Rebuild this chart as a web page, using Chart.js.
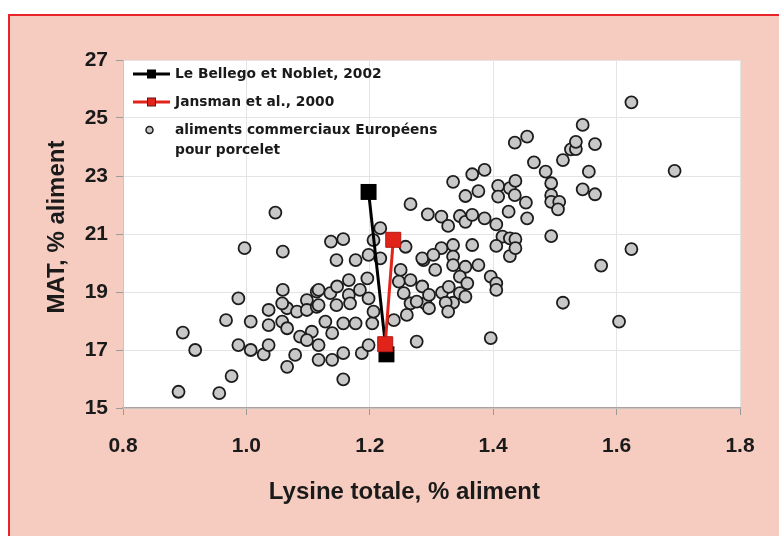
<!DOCTYPE html>
<html>
<head>
<meta charset="utf-8">
<script src="https://cdn.jsdelivr.net/npm/chart.js@4.4.0/dist/chart.umd.min.js"></script>
<style>
  html, body { margin: 0; padding: 0; background: #ffffff; overflow: hidden; width: 779px; height: 536px; }
  #frame { position: absolute; left: 8px; top: 14px; width: 820px; height: 600px;
           background: #f7ccc0; border-left: 2px solid #e8232a; border-top: 2px solid #e8232a; }
  #c { position: absolute; left: 0; top: 0; }
</style>
</head>
<body>
<div id="frame"></div>
<canvas id="c" width="779" height="536"></canvas>
<script>
// Series names (legend order)
const seriesNames = [
  'Le Bellego et Noblet, 2002',
  'Jansman et al., 2000',
  'aliments commerciaux Européens\npour porcelet'
];
const xTitle = 'Lysine totale, % aliment';
const yTitle = 'MAT, % aliment';

// Axis ranges
const xTicks = [0.8, 1.0, 1.2, 1.4, 1.6, 1.8];
const yTicks = [15, 17, 19, 21, 23, 25, 27];

// Recommendation lines
const bellegoLys = [1.198, 1.227];
const bellegoMat = [22.45, 16.85];
const jansmanLys = [1.238, 1.225];
const jansmanMat = [20.80, 17.20];

// Commercial European piglet feeds: total lysine (%) and crude protein (%)
const feedLys = [
  0.890, 0.956, 0.976, 0.897, 0.917, 0.967, 0.987, 0.987, 1.007, 1.007,
  0.997, 1.047, 1.059, 1.028, 1.036, 1.036, 1.036, 1.058, 1.066, 1.066,
  1.059, 1.058, 1.079, 1.066, 1.087, 1.082, 1.098, 1.098, 1.114, 1.114,
  1.106, 1.117, 1.098, 1.117, 1.139, 1.157, 1.157, 1.128, 1.139, 1.157,
  1.177, 1.204, 1.187, 1.198, 1.117, 1.136, 1.147, 1.166, 1.166, 1.184,
  1.196, 1.117, 1.146, 1.168, 1.198, 1.206, 1.137, 1.157, 1.146, 1.177,
  1.198, 1.206, 1.217, 1.217, 1.258, 1.250, 1.247, 1.266, 1.255, 1.266,
  1.285, 1.287, 1.290, 1.260, 1.239, 1.276, 1.266, 1.294, 1.316, 1.327,
  1.346, 1.355, 1.366, 1.386, 1.405, 1.335, 1.366, 1.386, 1.376, 1.355,
  1.408, 1.408, 1.427, 1.436, 1.435, 1.453, 1.455, 1.425, 1.435, 1.455,
  1.466, 1.485, 1.494, 1.494, 1.494, 1.507, 1.505, 1.513, 1.526, 1.534,
  1.534, 1.545, 1.565, 1.555, 1.545, 1.565, 1.624, 1.694, 1.494, 1.624,
  1.575, 1.513, 1.604, 1.396, 1.415, 1.405, 1.427, 1.436, 1.427, 1.436,
  1.366, 1.335, 1.316, 1.285, 1.306, 1.335, 1.335, 1.355, 1.376, 1.346,
  1.396, 1.405, 1.405, 1.358, 1.296, 1.317, 1.335, 1.346, 1.355, 1.276,
  1.296, 1.323, 1.327, 1.303, 1.328
];
const feedMat = [
  15.56, 15.51, 16.10, 17.60, 17.00, 18.03, 18.78, 17.17, 17.98, 17.00,
  20.51, 21.74, 20.39, 16.85, 17.17, 18.38, 17.86, 17.98, 17.75, 18.44,
  19.07, 18.61, 16.83, 16.42, 17.46, 18.32, 18.72, 18.38, 19.01, 18.49,
  17.63, 16.66, 17.34, 17.17, 16.66, 16.89, 15.99, 17.98, 17.58, 17.92,
  17.92, 17.92, 16.89, 17.17, 19.07, 18.96, 19.19, 19.41, 18.90, 19.07,
  19.47, 18.55, 18.55, 18.61, 18.78, 18.32, 20.74, 20.82, 20.10, 20.10,
  20.28, 20.79, 21.20, 20.16, 20.56, 19.76, 19.36, 19.41, 18.96, 18.61,
  19.19, 20.10, 18.61, 18.21, 18.03, 17.29, 22.03, 21.68, 21.60, 21.28,
  21.62, 21.42, 21.66, 21.54, 21.33, 22.80, 23.06, 23.21, 22.48, 22.31,
  22.66, 22.29, 22.58, 22.83, 22.34, 22.08, 21.54, 21.77, 24.15, 24.36,
  23.47, 23.15, 22.75, 22.34, 22.11, 22.11, 21.85, 23.55, 23.92, 23.93,
  24.18, 24.76, 24.10, 23.15, 22.54, 22.37, 25.54, 23.18, 20.93, 20.48,
  19.91, 18.63, 17.98, 17.41, 20.91, 20.59, 20.85, 20.82, 20.24, 20.51,
  20.62, 20.62, 20.51, 20.16, 19.76, 20.22, 19.93, 19.87, 19.93, 19.53,
  19.53, 19.30, 19.07, 19.30, 18.90, 18.98, 18.63, 18.96, 18.84, 18.67,
  18.44, 18.63, 18.32, 20.28, 19.18
];

const toPoints = (xs, ys) => xs.map((x, i) => ({ x: x, y: ys[i] }));

const TEXT = '#1a1a1a';
const AXIS_FONT = 'Liberation Sans, Arial, sans-serif';
const LEGEND_FONT = 'bold 13.8px "DejaVu Sans", sans-serif';
const TITLE_FONT = 'bold 24px "Liberation Sans", Arial, sans-serif';

// White plotting area behind the grid
const plotBackground = {
  id: 'plotBackground',
  beforeDraw(chart) {
    const { ctx, chartArea: a } = chart;
    ctx.save();
    ctx.fillStyle = '#ffffff';
    ctx.fillRect(a.left, a.top, a.right - a.left, a.bottom - a.top);
    ctx.restore();
  }
};

// Axis titles, placed relative to the plot area
const axisTitles = {
  id: 'axisTitles',
  afterDraw(chart) {
    const { ctx, chartArea: a } = chart;
    ctx.save();
    ctx.font = TITLE_FONT;
    ctx.fillStyle = TEXT;
    ctx.textAlign = 'center';
    ctx.textBaseline = 'middle';
    ctx.fillText(xTitle, a.left + (a.right - a.left) * 0.456, a.bottom + 84);
    ctx.translate(a.left - 66, a.top + (a.bottom - a.top) * 0.48);
    ctx.rotate(-Math.PI / 2);
    ctx.fillText(yTitle, 0, 0);
    ctx.restore();
  }
};

// Legend drawn inside the top-left corner of the plot
const insideLegend = {
  id: 'insideLegend',
  afterDraw(chart) {
    const { ctx, chartArea: a } = chart;
    const ds = chart.data.datasets;
    const x0 = a.left + 10, x1 = a.left + 47, xm = (x0 + x1) / 2, tx = a.left + 52;
    const rows = [a.top + 14, a.top + 42, a.top + 70];
    ctx.save();
    ctx.font = LEGEND_FONT;
    ctx.fillStyle = TEXT;
    ctx.textBaseline = 'middle';
    ctx.textAlign = 'left';

    // line entries
    [0, 1].forEach(i => {
      const y = rows[i];
      ctx.strokeStyle = ds[i].borderColor;
      ctx.lineWidth = 3;
      ctx.beginPath(); ctx.moveTo(x0, y); ctx.lineTo(x1, y); ctx.stroke();
      ctx.fillStyle = ds[i].pointBackgroundColor;
      ctx.fillRect(xm - 4, y - 4, 8, 8);
      ctx.strokeStyle = i === 0 ? '#000' : '#5a1a16';
      ctx.lineWidth = 1;
      ctx.strokeRect(xm - 4, y - 4, 8, 8);
      ctx.fillStyle = TEXT;
      ctx.fillText(ds[i].label, tx, y);
    });

    // marker entry (two-line label)
    const y = rows[2];
    ctx.beginPath();
    ctx.arc(xm - 2, y, 3.5, 0, Math.PI * 2);
    ctx.fillStyle = ds[2].pointBackgroundColor;
    ctx.fill();
    ctx.strokeStyle = ds[2].pointBorderColor;
    ctx.lineWidth = 1.5;
    ctx.stroke();
    ctx.fillStyle = TEXT;
    ds[2].label.split('\n').forEach((line, k) => ctx.fillText(line, tx, y + k * 20));
    ctx.restore();
  }
};

new Chart(document.getElementById('c'), {
  type: 'scatter',
  data: {
    datasets: [
      {
        label: seriesNames[0],
        data: toPoints(bellegoLys, bellegoMat),
        showLine: true,
        borderColor: '#000000',
        borderWidth: 3,
        pointStyle: 'rect',
        pointRadius: 11.3,
        pointBackgroundColor: '#000000',
        pointBorderColor: '#000000',
        pointBorderWidth: 0,
        order: 1
      },
      {
        label: seriesNames[1],
        data: toPoints(jansmanLys, jansmanMat),
        showLine: true,
        borderColor: '#e2231a',
        borderWidth: 3,
        pointStyle: 'rect',
        pointRadius: 10.6,
        pointBackgroundColor: '#e2231a',
        pointBorderColor: '#b31a14',
        pointBorderWidth: 1,
        order: 0
      },
      {
        label: seriesNames[2],
        data: toPoints(feedLys, feedMat),
        pointStyle: 'circle',
        pointRadius: 6,
        pointBackgroundColor: '#c8c8c8',
        pointBorderColor: '#1c1c1c',
        pointBorderWidth: 1.8,
        order: 2
      }
    ]
  },
  options: {
    responsive: false,
    animation: false,
    devicePixelRatio: 1,
    layout: { padding: { top: 60, right: 39, left: 0, bottom: 0 } },
    plugins: { legend: { display: false }, tooltip: { enabled: false } },
    scales: {
      x: {
        type: 'linear',
        min: xTicks[0],
        max: xTicks[xTicks.length - 1],
        afterBuildTicks(s) { s.ticks = xTicks.map(v => ({ value: v })); },
        ticks: {
          callback: v => Number(v).toFixed(1),
          font: { family: AXIS_FONT, size: 21, weight: 'bold' },
          color: TEXT,
          padding: 19,
          maxRotation: 0
        },
        grid: { color: '#e4e4e4', tickColor: '#9a9a9a', tickLength: 7, lineWidth: 1 },
        border: { color: '#aaa3a0', width: 1.5 },
        title: { display: false },
        afterFit(s) { s.height = 128; }
      },
      y: {
        type: 'linear',
        min: yTicks[0],
        max: yTicks[yTicks.length - 1],
        afterBuildTicks(s) { s.ticks = yTicks.map(v => ({ value: v })); },
        ticks: {
          font: { family: AXIS_FONT, size: 21, weight: 'bold' },
          color: TEXT,
          padding: 8
        },
        grid: { color: '#e4e4e4', tickColor: '#9a9a9a', tickLength: 7, lineWidth: 1 },
        border: { color: '#c8c2c0', width: 1 },
        title: { display: false },
        afterFit(s) { s.width = 123; }
      }
    }
  },
  plugins: [plotBackground, axisTitles, insideLegend]
});
</script>
</body>
</html>
